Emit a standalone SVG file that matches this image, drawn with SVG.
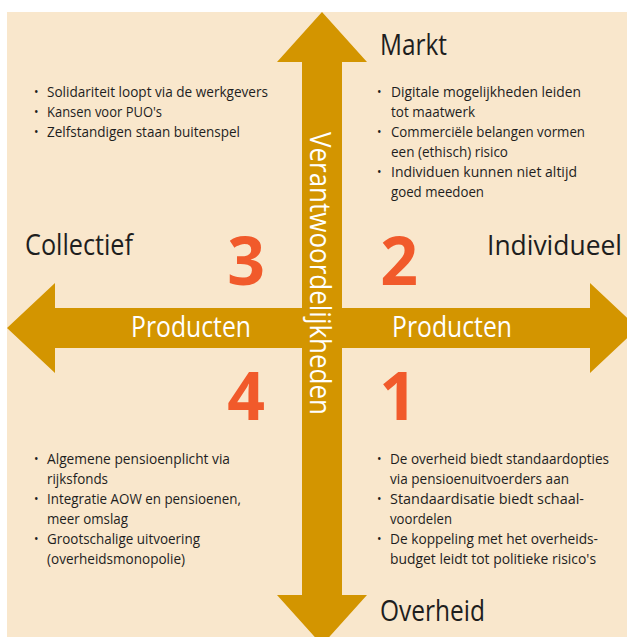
<svg xmlns="http://www.w3.org/2000/svg" width="627" height="637" viewBox="0 0 627 637">
  <style>
    .bg { fill: #F9E7CC; }
    .arrow { fill: #D39500; }
    .t { font-family: "Open Sans", "Noto Sans", sans-serif; fill: #1E1E1E; }
    .body { font-size: 15px; }
    .bul { font-size: 12px; }
    .head { font-size: 29px; }
    .white { font-family: "Open Sans", "Noto Sans", sans-serif; fill: #FFFFFF; font-size: 29px; }
    .num { font-family: "Open Sans", "Noto Sans", sans-serif; fill: #F15A2B; font-size: 66px; font-weight: 700; text-anchor: middle; }
  </style>
  <rect class="bg" x="7" y="12" width="630" height="640"/>

  <g id="connectors">
    <polygon class="arrow" points="322,12 367,62 342,62 342,595 367,595 322,645 277,595 302,595 302,62 277,62"/>
    <polygon class="arrow" points="7,328 55,283 55,308 590,308 590,283 638,328 590,373 590,348 55,348 55,373"/>
  </g>

  <g id="axis-labels">
    <text class="t head" x="380" y="55" textLength="67" lengthAdjust="spacingAndGlyphs">Markt</text>
    <text class="t head" x="380" y="621" textLength="105" lengthAdjust="spacingAndGlyphs">Overheid</text>
    <text class="t head" x="25" y="255" textLength="108" lengthAdjust="spacingAndGlyphs">Collectief</text>
    <text class="t head" x="487" y="255" style="font-size:27px" textLength="135" lengthAdjust="spacingAndGlyphs">Individueel</text>
    <text class="white" x="131" y="337" textLength="120" lengthAdjust="spacingAndGlyphs">Producten</text>
    <text class="white" x="392" y="337" textLength="120" lengthAdjust="spacingAndGlyphs">Producten</text>
    <text class="white" transform="translate(310,273.5) rotate(90)" x="0" y="0" text-anchor="middle" textLength="283" lengthAdjust="spacingAndGlyphs">Verantwoordelijkheden</text>
  </g>

  <g id="quadrant-3">
    <text class="num" x="246" y="285">3</text>
    <text class="t bul" x="34" y="96">•</text>
    <text class="t bul" x="34" y="116">•</text>
    <text class="t bul" x="34" y="136">•</text>
    <text class="t body" x="47" y="97" textLength="221" lengthAdjust="spacingAndGlyphs">Solidariteit loopt via de werkgevers</text>
    <text class="t body" x="47" y="117" textLength="115" lengthAdjust="spacingAndGlyphs">Kansen voor PUO's</text>
    <text class="t body" x="47" y="137" textLength="193" lengthAdjust="spacingAndGlyphs">Zelfstandigen staan buitenspel</text>
  </g>

  <g id="quadrant-2">
    <text class="num" x="399" y="285">2</text>
    <text class="t bul" x="377" y="96">•</text>
    <text class="t bul" x="377" y="136">•</text>
    <text class="t bul" x="377" y="176">•</text>
    <text class="t body" x="391" y="97" textLength="190" lengthAdjust="spacingAndGlyphs">Digitale mogelijkheden leiden</text>
    <text class="t body" x="391" y="117" textLength="84" lengthAdjust="spacingAndGlyphs">tot maatwerk</text>
    <text class="t body" x="391" y="137" textLength="194" lengthAdjust="spacingAndGlyphs">Commerciële belangen vormen</text>
    <text class="t body" x="391" y="157" textLength="117" lengthAdjust="spacingAndGlyphs">een (ethisch) risico</text>
    <text class="t body" x="391" y="177" textLength="186" lengthAdjust="spacingAndGlyphs">Individuen kunnen niet altijd</text>
    <text class="t body" x="391" y="197" textLength="93" lengthAdjust="spacingAndGlyphs">goed meedoen</text>
  </g>

  <g id="quadrant-4">
    <text class="num" x="246" y="420">4</text>
    <text class="t bul" x="34" y="463">•</text>
    <text class="t bul" x="34" y="503">•</text>
    <text class="t bul" x="34" y="543">•</text>
    <text class="t body" x="47" y="464" textLength="183" lengthAdjust="spacingAndGlyphs">Algemene pensioenplicht via</text>
    <text class="t body" x="47" y="484" textLength="61" lengthAdjust="spacingAndGlyphs">rijksfonds</text>
    <text class="t body" x="47" y="504" textLength="194" lengthAdjust="spacingAndGlyphs">Integratie AOW en pensioenen,</text>
    <text class="t body" x="47" y="524" textLength="81" lengthAdjust="spacingAndGlyphs">meer omslag</text>
    <text class="t body" x="47" y="544" textLength="153" lengthAdjust="spacingAndGlyphs">Grootschalige uitvoering</text>
    <text class="t body" x="47" y="564" textLength="138" lengthAdjust="spacingAndGlyphs">(overheidsmonopolie)</text>
  </g>

  <g id="quadrant-1">
    <text class="num" x="398" y="420">1</text>
    <text class="t bul" x="377" y="463">•</text>
    <text class="t bul" x="377" y="503">•</text>
    <text class="t bul" x="377" y="543">•</text>
    <text class="t body" x="390" y="464" style="font-size:14.5px" textLength="219" lengthAdjust="spacingAndGlyphs">De overheid biedt standaardopties</text>
    <text class="t body" x="390" y="484" textLength="179" lengthAdjust="spacingAndGlyphs">via pensioenuitvoerders aan</text>
    <text class="t body" x="390" y="504" textLength="194" lengthAdjust="spacingAndGlyphs">Standaardisatie biedt schaal-</text>
    <text class="t body" x="390" y="524" textLength="62" lengthAdjust="spacingAndGlyphs">voordelen</text>
    <text class="t body" x="390" y="544" textLength="208" lengthAdjust="spacingAndGlyphs">De koppeling met het overheids-</text>
    <text class="t body" x="390" y="564" textLength="206" lengthAdjust="spacingAndGlyphs">budget leidt tot politieke risico's</text>
  </g>
</svg>
